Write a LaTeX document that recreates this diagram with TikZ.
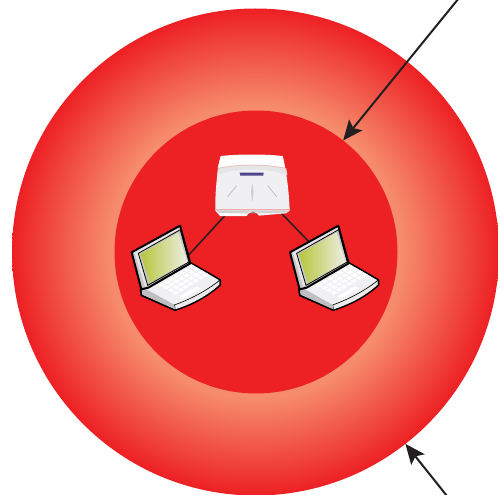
\documentclass[tikz,border=0pt]{standalone}
\usepackage{tikz}
\usetikzlibrary{positioning}
\usetikzlibrary{arrows.meta}

\definecolor{ringred}{RGB}{237,32,36}
\definecolor{ringpale}{RGB}{246,140,108}
\definecolor{inkblack}{RGB}{35,31,32}
\definecolor{screengreen}{RGB}{182,198,60}
\definecolor{screenpale}{RGB}{238,238,228}
\definecolor{bodygrey}{RGB}{240,240,243}
\definecolor{edgepink}{RGB}{240,172,172}
\definecolor{logoblue}{RGB}{80,70,140}

\pgfdeclareradialshading{ringshade}{\pgfpoint{0bp}{0bp}}{
  color(0bp)=(ringpale); color(15bp)=(ringpale);
  color(25bp)=(ringred); color(50bp)=(ringred)}

\tikzset{
  zone/.style={circle, inner sep=0pt, outer sep=0pt},
  device/.style={inner sep=0pt, minimum size=30pt},
  link/.style={draw=inkblack, line width=1.5pt},
  pointer/.style={draw=inkblack, line width=2pt, -{Stealth[length=20pt,width=17pt,inset=4pt]}},
  laptop/.pic={
    \begin{scope}[scale=1/3, shift={(-150,-150)}]
      % base
      \fill[bodygrey!80!black, draw=black, line width=2pt, line join=round] (47,208) -- (195,128) -- (285,180) -- (285,195)
        .. controls (240,235) and (195,255) .. (150,270) -- (50,226) -- cycle;
      \fill[bodygrey] (62,206) -- (195,130) -- (281,180)
        .. controls (240,215) and (195,238) .. (148,254) -- cycle;
      \fill[white!92!black] (148,255) .. controls (195,238) and (240,215) .. (283,182) -- (283,194)
        .. controls (240,233) and (195,253) .. (151,268) -- cycle;
      \draw[black, line width=.6pt] (148,255) .. controls (195,238) and (240,215) .. (283,182);
      \draw[black, line width=1pt] (148,255) -- (150,270);
      \fill[black!25] (50,212) -- (148,255) -- (150,268) -- (52,224) -- cycle;
      % keys
      \foreach \i in {0,...,6}
        \foreach \j in {0,...,3}
          \fill[white, shift={(100+15*\i+14*\j,195-9*\i+8*\j)}] (0,0) -- (11,-6.6) -- (21,-1) -- (10,5.5) -- cycle;
      \fill[white] (164,229) -- (215,199) -- (226,205) -- (175,235) -- cycle;
      % lid
      \fill[black!22, draw=black, line width=2pt, line join=round] (20,97) -- (165,17) -- (196,130) -- (70,203) -- (49,208) -- cycle;
      \fill[white!90!black] (28,97) -- (162,24) -- (166,30) -- (40,100) -- (68,196) -- (60,200) -- cycle;
      \draw[black, line width=.8pt] (40,100) -- (166,29) -- (192,126) -- (68,196) -- cycle;
      \shade[left color=screengreen, right color=screenpale] (47,102) -- (160,38) -- (187,125) -- (74,189) -- cycle;
    \end{scope}
  },
  accesspoint/.pic={
    \begin{scope}[scale=1/3, shift={(-141,-123)}]
      \fill[bodygrey] (47,33) .. controls (100,27) and (180,27) .. (233,33)
        .. controls (245,80) and (252,140) .. (254,197) -- (243,205) -- (162,212) -- (155,204) -- (132,204) -- (125,213) -- (45,213) -- (31,197)
        .. controls (30,140) and (36,80) .. (47,33) -- cycle;
      \fill[white] (47,35) .. controls (100,29) and (180,29) .. (233,35) -- (240,68)
        .. controls (180,55) and (100,55) .. (38,68) -- cycle;
      \fill[black!10] (36,90) .. controls (90,68) and (190,68) .. (247,90) -- (244,72)
        .. controls (190,58) and (90,58) .. (39,72) -- cycle;
      \draw[edgepink, line width=.5pt] (38,71) .. controls (90,57) and (190,57) .. (245,71);
      \draw[edgepink, line width=.5pt] (33,192) -- (253,192);
      \fill[black!18] (33,196) -- (253,196) -- (243,203) -- (162,204) -- (152,200) -- (134,200) -- (125,205) -- (45,205) -- cycle;
      \fill[white] (42,204) -- (125,206) -- (125,212) -- (47,212) -- cycle;
      \fill[black!45] (136,204) .. controls (140,198) and (148,198) .. (153,204) -- cycle;
      \fill[logoblue] (104,83) -- (176,83) -- (175,92) -- (106,92) -- cycle;
      \draw[black!25, line width=.8pt] (68,155) -- (95,122);
      \draw[black!25, line width=.8pt] (215,155) -- (188,122);
      \fill[black!18] (142,114) .. controls (147,135) and (147,150) .. (142,170) .. controls (137,150) and (137,135) .. (142,114) -- cycle;
    \end{scope}
  }
}

\begin{document}
\begin{tikzpicture}[x=1pt,y=-1pt]
    \useasboundingbox (0,0) rectangle (498,495);

    \node (outerZone)[zone, minimum size=487pt, shading=ringshade] at (255.5,252) {};
    \node (innerZone)[zone, minimum size=283pt, fill=ringred] at (256,252) {};

    \node (AP)[device] at (252,186) {};
    \node (laptopA)[device] at (175,270) {};
    \node (laptopB)[device] at (333.3,270) {};
    \coordinate (farA) at (459,-2);
    \coordinate (farB) at (447,496);

    \draw [link] (AP) -- (laptopA);
    \draw [link] ([xshift=3pt]AP.center) -- ([xshift=3pt]laptopB.center);
    \draw [pointer] (farA) -- (innerZone.52.6);
    \draw [pointer] (farB) -- (outerZone.-52.5);

    \pic at (AP) {accesspoint};
    \pic at (laptopA) {laptop};
    \pic at (laptopB) {laptop};
\end{tikzpicture}
\end{document}
